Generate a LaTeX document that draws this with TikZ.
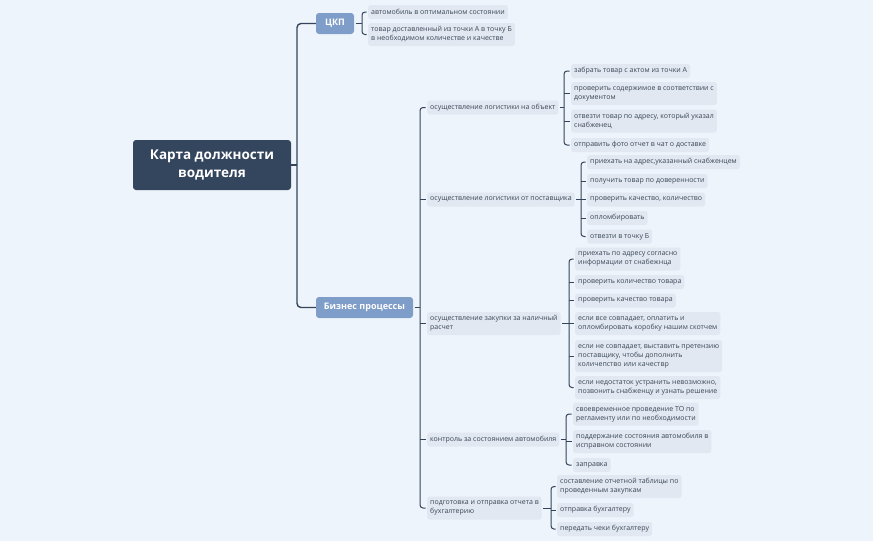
\documentclass[tikz,border=0pt]{standalone}
\usepackage{fontspec}
\newfontfamily\uif{Open Sans}
\definecolor{bgc}{HTML}{EEF4FB}
\definecolor{leafc}{HTML}{E1E8F1}
\definecolor{linec}{HTML}{33445B}
\definecolor{txtc}{HTML}{3B4757}
\definecolor{rootc}{HTML}{34455E}
\definecolor{lonec}{HTML}{7F9DC9}
\tikzset{
  leaf/.style={fill=leafc, rounded corners=2.5pt, anchor=west, inner xsep=3pt, inner ysep=2.5pt,
    font=\uif\fontsize{7}{9}\selectfont, text=txtc, align=left, minimum height=14pt},
  two/.style={minimum height=23pt},
  three/.style={minimum height=32pt},
  rootbox/.style={fill=rootc, rounded corners=3pt, text=white, align=center,
    font=\uif\bfseries\fontsize{13.5}{17.5}\selectfont, minimum width=158pt, minimum height=50pt},
  lone/.style={fill=lonec, rounded corners=3pt, text=white, align=center,
    font=\uif\bfseries\fontsize{9}{10}\selectfont, minimum height=21pt, inner xsep=3pt},
  conn/.style={draw=linec, line width=1pt, rounded corners=3pt},
  rconn/.style={draw=linec, line width=1.4pt, rounded corners=4pt},
}
\newcommand\mybr[4]{%
  \draw[conn,shorten <=1.5pt] (#1.east) -- (#2 |- #1.east);
  \draw[conn,shorten <=1.5pt,shorten >=1.5pt] (#3.west) -- (#2 |- #3.west) -- (#2 |- #4.west) -- (#4.west);
}
\begin{document}
\begin{tikzpicture}[x=1pt,y=-1pt]
\fill[bgc] (0,0) rectangle (873,541);
\useasboundingbox (0,0) rectangle (873,541);

% root and level 1
\node[rootbox] (root) at (212,165) {Карта должности\\водителя};
\node[lone, minimum width=38pt] (ckp) at (335,23.5) {ЦКП};
\node[lone, minimum width=97pt] (biz) at (364.5,307.5) {Бизнес процессы};

% CKP children
\node[leaf] (k1) at (368,12) {автомобиль в оптимальном состоянии};
\node[leaf,two] (k2) at (368,34.5) {товар доставленный из точки А в точку Б\\в необходимом количестве и качестве};

% level 2
\node[leaf] (p1) at (427,107.5) {осуществление логистики на объект};
\node[leaf] (p2) at (427,199.5) {осуществление логистики от поставщика};
\node[leaf,two] (p3) at (427,323.5) {осуществление закупки за наличный\\расчет};
\node[leaf] (p4) at (427,439.5) {контроль за состоянием автомобиля};
\node[leaf,two] (p5) at (427,508) {подготовка и отправка отчета в\\бухгалтерию};

% p1 children
\node[leaf] (a1) at (571,71) {забрать товар с актом из точки А};
\node[leaf,two] (a2) at (571,93.5) {проверить содержимое в соответствии с\\документом};
\node[leaf,two] (a3) at (571,121) {отвезти товар по адресу, который указал\\снабженец};
\node[leaf] (a4) at (571,145) {отправить фото отчет в чат о доставке};

% p2 children
\node[leaf] (b1) at (587,162) {приехать на адрес,указанный снабженцем};
\node[leaf] (b2) at (587,181) {получить товар по доверенности};
\node[leaf] (b3) at (587,199.5) {проверить качество, количество};
\node[leaf] (b4) at (587,218) {опломбировать};
\node[leaf] (b5) at (587,236.5) {отвезти в точку Б};

% p3 children
\node[leaf,two] (c1) at (575,259) {приехать по адресу согласно\\информации от снабежнца};
\node[leaf] (c2) at (575,282) {проверить количество товара};
\node[leaf] (c3) at (575,300.5) {проверить качество товара};
\node[leaf,two] (c4) at (575,323.5) {если все совпадает, оплатить и\\опломбировать коробку нашим скотчем};
\node[leaf,three] (c5) at (575,356) {если не совпадает, выставить претензию\\поставщику, чтобы дополнить\\количепство или качествр};
\node[leaf,two] (c6) at (575,387.5) {если недостаток устранить невозможно,\\позвонить снабженцу и узнать решение};

% p4 children
\node[leaf,two] (d1) at (573,414) {своевременное проведение ТО по\\регламенту или по необходимости};
\node[leaf,two] (d2) at (573,441.5) {поддержание состояния автомобиля в\\исправном состоянии};
\node[leaf] (d3) at (573,465) {заправка};

% p5 children
\node[leaf,two] (e1) at (557,486.5) {составление отчетной таблицы по\\проведенным закупкам};
\node[leaf] (e2) at (557,510) {отправка бухгалтеру};
\node[leaf] (e3) at (557,529) {передать чеки бухгалтеру};

% bracket coordinates
\coordinate (xr) at (297,0);
\coordinate (xk) at (362,0);
\coordinate (xb) at (420,0);
\coordinate (x1) at (564,0);
\coordinate (x2) at (581,0);
\coordinate (x3) at (569,0);
\coordinate (x4) at (566,0);
\coordinate (x5) at (551,0);

% root connectors
\draw[rconn] (root.east) -- (xr |- root.east);
\draw[rconn] (ckp.west) -- (xr |- ckp.west) -- (xr |- biz.west) -- (biz.west);

\mybr{ckp}{xk}{k1}{k2}
\mybr{biz}{xb}{p1}{p5}
\foreach \c in {p2,p3,p4} \draw[conn,shorten >=1.5pt] (xb |- \c.west) -- (\c.west);
\mybr{p1}{x1}{a1}{a4}
\foreach \c in {a2,a3} \draw[conn,shorten >=1.5pt] (x1 |- \c.west) -- (\c.west);
\mybr{p2}{x2}{b1}{b5}
\foreach \c in {b2,b3,b4} \draw[conn,shorten >=1.5pt] (x2 |- \c.west) -- (\c.west);
\mybr{p3}{x3}{c1}{c6}
\foreach \c in {c2,c3,c4,c5} \draw[conn,shorten >=1.5pt] (x3 |- \c.west) -- (\c.west);
\mybr{p4}{x4}{d1}{d3}
\foreach \c in {d2} \draw[conn,shorten >=1.5pt] (x4 |- \c.west) -- (\c.west);
\mybr{p5}{x5}{e1}{e3}
\foreach \c in {e2} \draw[conn,shorten >=1.5pt] (x5 |- \c.west) -- (\c.west);
\end{tikzpicture}
\end{document}
